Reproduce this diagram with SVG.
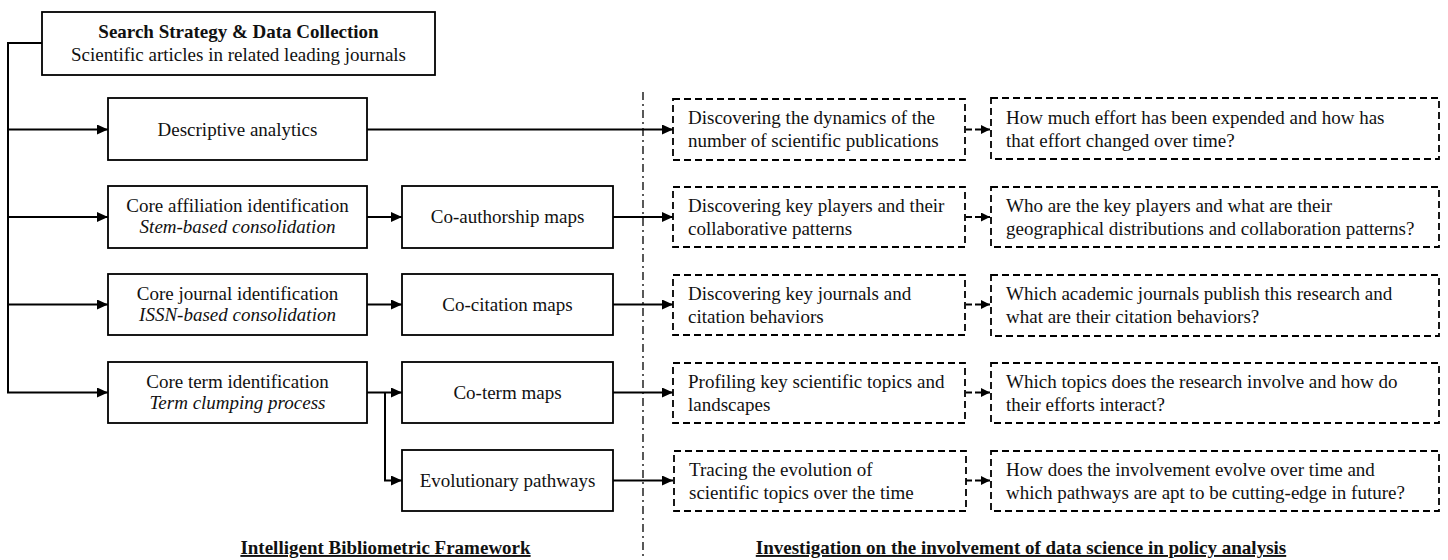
<svg xmlns="http://www.w3.org/2000/svg" width="1448" height="560" viewBox="0 0 1448 560">
<style>
text{font-family:"Liberation Serif","Times New Roman",serif;font-size:19px;fill:#111}
.b{font-weight:bold}
.i{font-style:italic}
.c{text-anchor:middle}
.box{fill:#fff;stroke:#000;stroke-width:1.8}
.dbox{fill:#fff;stroke:#000;stroke-width:1.8;stroke-dasharray:7 4}
.ln{fill:none;stroke:#000;stroke-width:2}
.dln{fill:none;stroke:#000;stroke-width:1.8;stroke-dasharray:6 3}
.dd{fill:none;stroke:#000;stroke-width:1.3;stroke-dasharray:8 4 2 4}
.u{text-decoration:underline}
</style>
<defs>
<marker id="ah" markerUnits="userSpaceOnUse" markerWidth="11" markerHeight="10" refX="11" refY="5" orient="auto">
<path d="M0,0 L11,5 L0,10 z" fill="#000"/>
</marker>
<marker id="ahs" markerUnits="userSpaceOnUse" markerWidth="9" markerHeight="9" refX="9" refY="4.5" orient="auto">
<path d="M0,0 L9,4.5 L0,9 z" fill="#000"/>
</marker>
</defs>

<g id="divider">
<path class="dd" d="M643,92 V560"/>
</g>

<g id="connectors">
<path class="ln" d="M42,43 H8 V392.5 H108" marker-end="url(#ah)"/>
<path class="ln" d="M8,129.5 H108" marker-end="url(#ah)"/>
<path class="ln" d="M8,217 H108" marker-end="url(#ah)"/>
<path class="ln" d="M8,304.5 H108" marker-end="url(#ah)"/>
<path class="ln" d="M367,129.5 H673" marker-end="url(#ah)"/>
<path class="ln" d="M367,217 H402" marker-end="url(#ah)"/>
<path class="ln" d="M367,304.5 H402" marker-end="url(#ah)"/>
<path class="ln" d="M367,392.5 H402" marker-end="url(#ah)"/>
<path class="ln" d="M385,392.5 V480.5 H402" marker-end="url(#ah)"/>
<path class="ln" d="M613,217 H673" marker-end="url(#ah)"/>
<path class="ln" d="M613,304.5 H673" marker-end="url(#ah)"/>
<path class="ln" d="M613,392.5 H673" marker-end="url(#ah)"/>
<path class="ln" d="M613,480.5 H673" marker-end="url(#ah)"/>
<path class="dln" d="M966,129.5 H990" marker-end="url(#ahs)"/>
<path class="dln" d="M966,217 H990" marker-end="url(#ahs)"/>
<path class="dln" d="M966,304.5 H990" marker-end="url(#ahs)"/>
<path class="dln" d="M966,392.5 H990" marker-end="url(#ahs)"/>
<path class="dln" d="M966,480.5 H990" marker-end="url(#ahs)"/>
</g>

<g id="search">
<rect class="box" x="42" y="12" width="393" height="63"/>
<text class="b c" x="238.5" y="38">Search Strategy &amp; Data Collection</text>
<text class="c" x="238.5" y="61">Scientific articles in related leading journals</text>
</g>

<g id="descriptive">
<rect class="box" x="108" y="98" width="259" height="62"/>
<text class="c" x="237.5" y="136">Descriptive analytics</text>
</g>

<g id="affiliation">
<rect class="box" x="108" y="186" width="259" height="62"/>
<text class="c" x="237.5" y="212">Core affiliation identification</text>
<text class="c i" x="237.5" y="233">Stem-based consolidation</text>
</g>

<g id="journal">
<rect class="box" x="108" y="274" width="259" height="61"/>
<text class="c" x="237.5" y="300">Core journal identification</text>
<text class="c i" x="237.5" y="321">ISSN-based consolidation</text>
</g>

<g id="term">
<rect class="box" x="108" y="362" width="259" height="61"/>
<text class="c" x="237.5" y="388">Core term identification</text>
<text class="c i" x="237.5" y="409">Term clumping process</text>
</g>

<g id="coauthorship">
<rect class="box" x="402" y="186" width="211" height="62"/>
<text class="c" x="507.5" y="223">Co-authorship maps</text>
</g>

<g id="cocitation">
<rect class="box" x="402" y="274" width="211" height="61"/>
<text class="c" x="507.5" y="311">Co-citation maps</text>
</g>

<g id="coterm">
<rect class="box" x="402" y="362" width="211" height="61"/>
<text class="c" x="507.5" y="399">Co-term maps</text>
</g>

<g id="evolutionary">
<rect class="box" x="402" y="450" width="211" height="61"/>
<text class="c" x="507.5" y="487">Evolutionary pathways</text>
</g>

<g id="dyn">
<rect class="dbox" x="673" y="99" width="292" height="61"/>
<text x="688" y="124">Discovering the dynamics of the</text>
<text x="688" y="147">number of scientific publications</text>
</g>

<g id="players">
<rect class="dbox" x="673" y="187" width="292" height="60"/>
<text x="688" y="212">Discovering key players and their</text>
<text x="688" y="235">collaborative patterns</text>
</g>

<g id="journals">
<rect class="dbox" x="673" y="275" width="292" height="60"/>
<text x="688" y="300">Discovering key journals and</text>
<text x="688" y="323">citation behaviors</text>
</g>

<g id="topics">
<rect class="dbox" x="673" y="363" width="292" height="60"/>
<text x="688" y="388">Profiling key scientific topics and</text>
<text x="688" y="411">landscapes</text>
</g>

<g id="evolution">
<rect class="dbox" x="674" y="451" width="292" height="60"/>
<text x="689" y="476">Tracing the evolution of</text>
<text x="689" y="499">scientific topics over the time</text>
</g>

<g id="q1">
<rect class="dbox" x="991" y="98" width="448" height="61"/>
<text x="1006" y="124">How much effort has been expended and how has</text>
<text x="1006" y="147">that effort changed over time?</text>
</g>

<g id="q2">
<rect class="dbox" x="991" y="187" width="448" height="60"/>
<text x="1006" y="212">Who are the key players and what are their</text>
<text x="1006" y="235">geographical distributions and collaboration patterns?</text>
</g>

<g id="q3">
<rect class="dbox" x="991" y="275" width="448" height="61"/>
<text x="1006" y="300">Which academic journals publish this research and</text>
<text x="1006" y="323">what are their citation behaviors?</text>
</g>

<g id="q4">
<rect class="dbox" x="991" y="363" width="448" height="60"/>
<text x="1006" y="388">Which topics does the research involve and how do</text>
<text x="1006" y="411">their efforts interact?</text>
</g>

<g id="q5">
<rect class="dbox" x="991" y="451" width="448" height="60"/>
<text x="1006" y="476">How does the involvement evolve over time and</text>
<text x="1006" y="499">which pathways are apt to be cutting-edge in future?</text>
</g>

<g id="titles">
<text class="b c u" x="385.5" y="554">Intelligent Bibliometric Framework</text>
<text class="b c u" x="1021" y="554">Investigation on the involvement of data science in policy analysis</text>
</g>
</svg>
